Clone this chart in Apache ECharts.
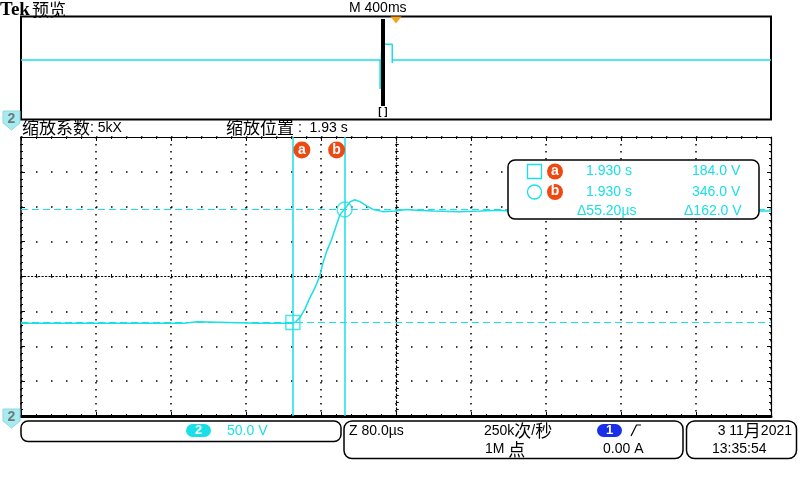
<!DOCTYPE html>
<html><head><meta charset="utf-8">
<script src="https://cdn.jsdelivr.net/npm/echarts@6/dist/echarts.min.js"></script>
<style>html,body{margin:0;padding:0;background:#fff}#c{width:800px;height:480px}</style>
</head><body><div id="c"></div>
<script>
// ---- data (main zoom window: time in µs relative to zoom centre, channel 2 volts) ----
const traceTimeUs = [-400,-306,-306,-304,-304,-297,-297,-295,-295,-226,-226,-212,-212,-147,-147,-145,-145,-110,-107,-102,-97,-92,-86,-81,-78,-74,-69,-63,-60,-54,-49,-44,-38,-31,-24,-14,-1,11,22,40,68,90,110,130,150,180,210,250,300,350,400];
const traceVolts  = [183,183,185,185,183,183,185,185,183,183,185,185,183,183,185,185,183,183,185,192,204,219,235,252,269,286,302,326,338,348,357,360,357,351,346,343,344,346,345,344,343,344,345,343,345,344,343,344,345,344,344];
// overview window: time in s over 4 s record
const overviewTimeS = [0,1.915,1.915,1.925,1.925,1.931,1.980,1.980,1.981,4];
const overviewVolts = [183,183,-116,-116,370,344,344,151,183,183];
const cursorTimesUs = [-110, -54.8];
const cursorVolts = [184.0, 346.0];
const zoomPosS = 1.93;
const triggerPosS = 2.0;
const timeDivUs = 80, voltDiv = 50;

const CY = '#19dfe6', OR = '#ee4813', BL = '#1a2fe8';
const LAT = '"Liberation Sans", "Noto Sans CJK SC", sans-serif';
const CJK = '"Noto Sans CJK SC", "Liberation Sans", sans-serif';

const chart = echarts.init(document.getElementById('c'), null, {renderer:'canvas'});
const zip = (a,b)=>a.map((v,i)=>[v,b[i]]);

function T(x,y,text,o){ o=o||{}; return {type:'text', x:x, y:y, z:101, silent:true,
  style:Object.assign({text:text, fill:'#000', font:'14px '+LAT, align:'left', verticalAlign:'middle'}, o)}; }
function R(x,y,w,h,r,o){ return {type:'rect', z:100, silent:true, shape:{x:x,y:y,width:w,height:h,r:r},
  style:Object.assign({fill:'#fff', stroke:'#000', lineWidth:1.5}, o||{})}; }
const richStyle = {c:{fontSize:17, fontFamily:CJK, fill:'#000'}, l:{fontSize:14, fontFamily:LAT, fill:'#000'}};

const dA = cursorTimesUs[1]-cursorTimesUs[0];
const dV = cursorVolts[1]-cursorVolts[0];

const graphics = [
  T(0,10,'Tek',{font:'bold 19px "Liberation Serif", serif'}),
  T(32,10,'预览',{font:'17px '+CJK}),
  T(349,8,'M 400ms',{font:'14px '+LAT}),
  T(22,128,'{c|缩放系数}{l|: 5kX}',{rich:richStyle}),
  T(226,128,'{c|缩放位置}{l| :  '+zoomPosS.toFixed(2)+' s}',{rich:richStyle}),
  // channel markers
  {type:'polygon', z:100, silent:true, shape:{points:[[3,111],[20,111],[20,123],[11.5,130],[3,123]]}, style:{fill:'#a6ebf0', stroke:'#8fd9df'}},
  T(11.5,119.5,'2',{font:'bold 14px '+LAT, fill:'#6f7a7c', align:'center'}),
  {type:'polygon', z:100, silent:true, shape:{points:[[3,409],[20,409],[20,421],[11.5,428],[3,421]]}, style:{fill:'#a6ebf0', stroke:'#8fd9df'}},
  T(11.5,417.5,'2',{font:'bold 14px '+LAT, fill:'#6f7a7c', align:'center'}),
  // readout box
  R(508,160,251,59,7),
  R(527.5,164.5,14,14,0,{fill:'none', stroke:CY, lineWidth:1.3}),
  {type:'circle', z:101, silent:true, shape:{cx:555,cy:171.5,r:8}, style:{fill:OR}},
  T(555,171,'a',{font:'bold 14px '+LAT, fill:'#fff', align:'center'}),
  T(586,171.5,'1.930 s',{fill:CY}),
  T(692,171.5,cursorVolts[0].toFixed(1)+' V',{fill:CY}),
  {type:'circle', z:101, silent:true, shape:{cx:534.5,cy:192,r:7}, style:{fill:'none', stroke:CY, lineWidth:1.3}},
  {type:'circle', z:101, silent:true, shape:{cx:555,cy:192,r:8}, style:{fill:OR}},
  T(555,191.5,'b',{font:'bold 14px '+LAT, fill:'#fff', align:'center'}),
  T(586,192,'1.930 s',{fill:CY}),
  T(692,192,cursorVolts[1].toFixed(1)+' V',{fill:CY}),
  T(577,211,'Δ'+dA.toFixed(2)+'µs',{fill:CY}),
  T(684,211,'Δ'+dV.toFixed(1)+' V',{fill:CY}),
  // bottom boxes
  R(21,421,320,20.5,7),
  R(186,424,25,13,6.5,{fill:CY, stroke:'none'}),
  T(198.5,430.5,'2',{font:'bold 13px '+LAT, fill:'#fff', align:'center'}),
  T(227,431,(voltDiv).toFixed(1)+' V',{fill:CY}),
  R(344,421,339,37.5,8),
  T(349,431,'Z '+timeDivUs.toFixed(1)+'µs'),
  T(484,431,'{l|250k}{c|次}{l|/}{c|秒}',{rich:richStyle}),
  T(485,449.5,'{l|1M }{c|点}',{rich:richStyle}),
  R(597,424,25,13,6.5,{fill:BL, stroke:'none'}),
  T(609.5,430.5,'1',{font:'bold 13px '+LAT, fill:'#fff', align:'center'}),
  {type:'polyline', z:101, silent:true, shape:{points:[[631,436],[636.5,425],[641,425]]}, style:{stroke:'#000', lineWidth:1.2, fill:'none'}},
  T(603,449.5,'0.00 A'),
  R(686.5,421,110,37.5,8),
  T(792,431,'{l|3 11}{c|月}{l|2021}',{rich:richStyle, align:'right'}),
  T(712,449.5,'13:35:54')
];

const blk = {color:'#000'};
const option = {
  animation:false, backgroundColor:'#fff',
  grid:[
    {left:21, top:16.5, width:750, height:103, show:true, borderColor:'#000', borderWidth:2, backgroundColor:'#fff', outerBoundsMode:'none'},
    {left:21, top:137, width:750, height:279, outerBoundsMode:'none'},
    {left:21, top:137, width:750, height:279, outerBoundsMode:'none'}
  ],
  xAxis:[
    {gridIndex:0, type:'value', min:0, max:4, show:false},
    {gridIndex:1, type:'value', min:-400, max:400, interval:timeDivUs, position:'bottom',
      axisLine:{show:true, onZero:false, lineStyle:{color:'#000', width:3}},
      axisTick:{show:true, inside:true, length:4, lineStyle:blk},
      minorTick:{show:true, splitNumber:5, length:2, lineStyle:blk},
      axisLabel:{show:false},
      splitLine:{show:true, lineStyle:{color:'#000', width:1.5, type:[1.5,5.5]}}},
    {gridIndex:1, type:'value', min:-400, max:400, interval:timeDivUs, position:'top',
      axisLine:{show:true, onZero:false, lineStyle:{color:'#000', width:1.2}},
      axisTick:{show:true, inside:true, length:4, lineStyle:blk},
      minorTick:{show:true, splitNumber:5, length:2, lineStyle:blk},
      axisLabel:{show:false}, splitLine:{show:false}},
    {gridIndex:2, type:'value', min:-5, max:5, interval:0.2,
      axisLine:{show:true, onZero:true, onZeroAxisIndex:3, lineStyle:{color:'#000', width:1.2, type:[1.2,2.3]}},
      axisTick:{show:true, inside:true, length:2.5, lineStyle:blk},
      axisLabel:{show:false}, splitLine:{show:false}},
    {gridIndex:2, type:'value', min:-5, max:5, interval:0.2,
      axisLine:{show:false, onZero:true, onZeroAxisIndex:3},
      axisTick:{show:true, inside:false, length:2.5, lineStyle:blk},
      axisLabel:{show:false}, splitLine:{show:false}}
  ],
  yAxis:[
    {gridIndex:0, type:'value', min:-430, max:630, show:false},
    {gridIndex:1, type:'value', min:50, max:450, interval:voltDiv, position:'left',
      axisLine:{show:true, onZero:false, lineStyle:{color:'#000', width:1.5}},
      axisTick:{show:true, inside:true, length:4, lineStyle:blk},
      minorTick:{show:true, splitNumber:5, length:2, lineStyle:blk},
      axisLabel:{show:false},
      splitLine:{show:true, lineStyle:{color:'#000', width:1.5, type:[1.5,13.5]}}},
    {gridIndex:1, type:'value', min:50, max:450, interval:voltDiv, position:'right',
      axisLine:{show:true, onZero:false, lineStyle:{color:'#000', width:1.2}},
      axisTick:{show:true, inside:true, length:4, lineStyle:blk},
      minorTick:{show:true, splitNumber:5, length:2, lineStyle:blk},
      axisLabel:{show:false}, splitLine:{show:false}},
    {gridIndex:2, type:'value', min:-4, max:4, interval:0.2,
      axisLine:{show:true, onZero:true, onZeroAxisIndex:3, lineStyle:{color:'#000', width:1.2, type:[1.2,2.3]}},
      axisTick:{show:true, inside:true, length:2.5, lineStyle:blk},
      axisLabel:{show:false}, splitLine:{show:false}},
    {gridIndex:2, type:'value', min:-4, max:4, interval:0.2,
      axisLine:{show:false, onZero:true, onZeroAxisIndex:3},
      axisTick:{show:true, inside:false, length:2.5, lineStyle:blk},
      axisLabel:{show:false}, splitLine:{show:false}}
  ],
  series:[
    {type:'line', name:'overview', xAxisIndex:0, yAxisIndex:0, data:zip(overviewTimeS, overviewVolts),
      symbol:'none', silent:true, lineStyle:{color:CY, width:1.5}, z:3,
      markLine:{silent:true, symbol:['none','none'], animation:false,
        lineStyle:{color:'#000', width:4, type:'solid'},
        label:{show:true, position:'start', formatter:'[]', distance:1, color:'#000', fontSize:10, fontWeight:'bold', fontFamily:'"DejaVu Sans Mono", monospace'},
        data:[[{coord:[zoomPosS,-291]},{coord:[zoomPosS,604]}]]},
      markPoint:{silent:true, animation:false, symbol:'triangle', symbolRotate:180, symbolSize:[11,7],
        itemStyle:{color:'#f7a21b'}, label:{show:false},
        data:[{coord:[triggerPosS,630], symbolOffset:[0,3.5]}]}},
    {type:'line', name:'CH2', xAxisIndex:1, yAxisIndex:1, data:zip(traceTimeUs, traceVolts),
      symbol:'none', silent:true, lineStyle:{color:CY, width:1.5}, z:3,
      markLine:{silent:true, symbol:['none','none'], animation:false, label:{show:false},
        lineStyle:{color:CY, width:1.5, type:'solid'},
        data:[
          {xAxis:cursorTimesUs[0]}, {xAxis:cursorTimesUs[1]},
          {yAxis:cursorVolts[0], lineStyle:{color:CY, width:1.2, type:[7,4]}},
          {yAxis:cursorVolts[1], lineStyle:{color:CY, width:1.2, type:[7,4]}}
        ]}},
    {type:'scatter', name:'cursors', xAxisIndex:1, yAxisIndex:1, silent:true, z:4,
      itemStyle:{color:'rgba(0,0,0,0)', borderColor:CY, borderWidth:1.4},
      data:[
        {value:[cursorTimesUs[0], cursorVolts[0]], symbol:'rect', symbolSize:14},
        {value:[cursorTimesUs[1], cursorVolts[1]], symbol:'circle', symbolSize:15}
      ],
      markPoint:{silent:true, animation:false, symbol:'circle', symbolSize:17, itemStyle:{color:OR},
        label:{show:true, position:'inside', color:'#fff', fontWeight:'bold', fontSize:14, fontFamily:LAT},
        data:[
          {coord:[cursorTimesUs[0], 450], symbolOffset:[9,13], label:{formatter:'a'}},
          {coord:[cursorTimesUs[1], 450], symbolOffset:[-8,13], label:{formatter:'b'}}
        ]}}
  ],
  graphic:{elements:graphics}
};
chart.setOption(option);
</script></body></html>
